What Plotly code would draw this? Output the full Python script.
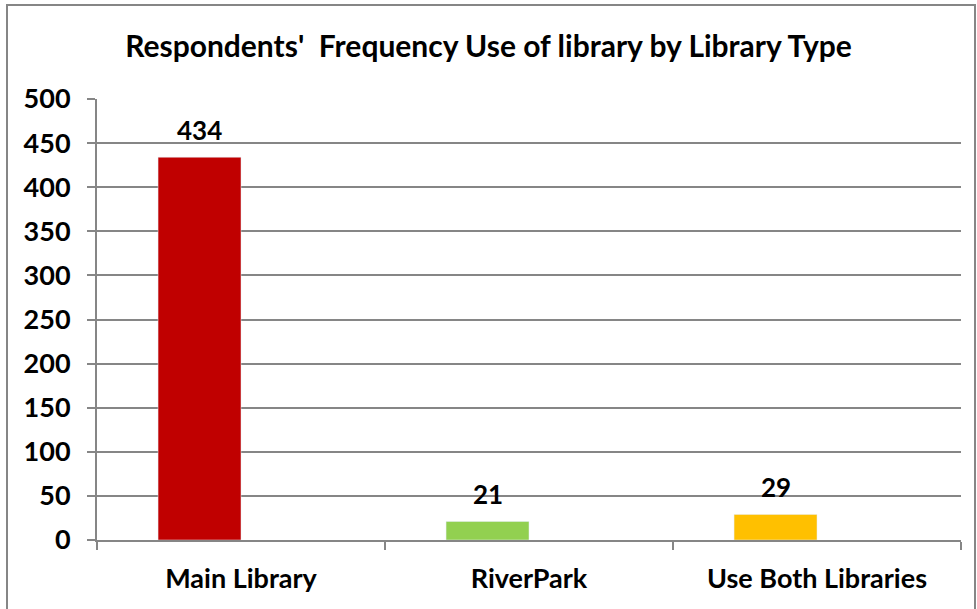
import plotly.graph_objects as go

categories = ["Main Library", "RiverPark", "Use Both Libraries"]
values = [434, 21, 29]
colors = ["#C00000", "#92D050", "#FFC000"]
title = "Respondents'  Frequency Use of library by Library Type"

FONT = "Lato"
GRID = "#868686"
BAR_W = 0.288

fig = go.Figure(go.Bar(
    x=categories, y=values, marker_color=colors, width=BAR_W, offset=-BAR_W,
    cliponaxis=False,
))

annotations = [
    dict(x=i - BAR_W / 2, y=v, xref="x", yref="y", text="<b>" + str(v) + "</b>",
         showarrow=False, yanchor="middle", yshift=27,
         font=dict(family=FONT, size=26, color="black"))
    for i, v in enumerate(values)
]

fig.update_layout(
    width=977, height=609,
    margin=dict(l=97, r=16, t=99, b=69),
    paper_bgcolor="white", plot_bgcolor="white",
    showlegend=False,
    title=dict(text="<b>" + title + "</b>", x=0.5, xanchor="center",
               y=1 - 46 / 609, yanchor="middle",
               font=dict(family=FONT, size=30, color="black")),
    font=dict(family=FONT, color="black"),
    xaxis=dict(
        type="category", tickson="boundaries", ticks="outside", ticklen=8,
        tickcolor=GRID, tickwidth=2, showline=True, linecolor=GRID, linewidth=2,
        showgrid=False, tickfont=dict(family=FONT, size=27, color="black"),
        ticklabelstandoff=14, range=[-0.5, 2.5],
    ),
    yaxis=dict(
        range=[0, 500], dtick=50, ticks="outside", ticklen=8, tickcolor=GRID,
        tickwidth=2, showline=True, linecolor=GRID, linewidth=2,
        showgrid=True, gridcolor=GRID, gridwidth=2, zeroline=False,
        tickfont=dict(family=FONT, size=27, color="black"),
        tickprefix="<b>", ticksuffix="</b>", ticklabelstandoff=11,
    ),
    annotations=annotations,
    shapes=[dict(type="rect", xref="paper", yref="paper",
                 x0=(7 - 97) / 864, x1=(975 - 97) / 864,
                 y0=-0.3, y1=1 + 94 / 441,
                 line=dict(color="#868686", width=2), fillcolor="rgba(0,0,0,0)",
                 layer="below")],
)
fig.update_xaxes(tickvals=categories, ticktext=["<b>" + c + "</b>" for c in categories])

fig.write_html("out.html", config={"displayModeBar": False},
               post_script="document.body.style.margin='0';document.body.style.overflow='hidden';document.documentElement.style.overflow='hidden';")
